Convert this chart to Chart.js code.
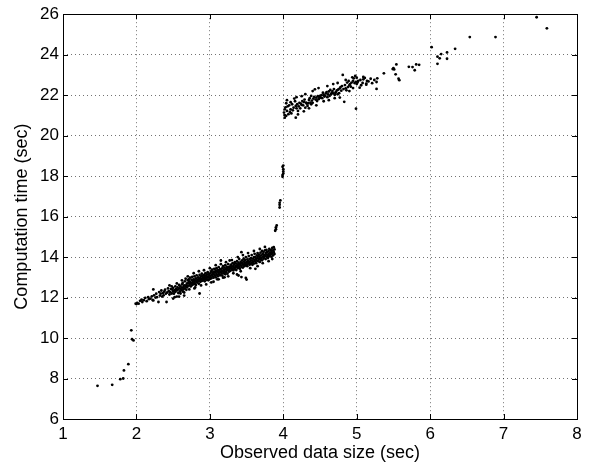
<!DOCTYPE html>
<html lang="en">
<head>
    <meta charset="UTF-8" />
    <title>Computation time vs observed data size</title>
    <script src="https://cdn.jsdelivr.net/npm/chart.js"></script>
    <style>
        html, body { margin: 0; padding: 0; background: #fff; }
        #wrap { width: 592px; height: 464px; }
    </style>
</head>
<body>
    <div id="wrap"><canvas id="grafico" width="592" height="464"></canvas></div>

    <script>
    const lowPts = [
        [1.47,7.64],[1.67,7.69],[1.78,7.97],[1.82,8.00],[1.83,8.40],[1.89,8.71],
        [1.93,10.38],[1.94,9.94],[1.96,9.88]
    ];

    const bandPts = [
        [1.99,11.70],[2.00,11.68],[2.01,11.73],[2.03,11.70],[2.05,11.84],[2.07,11.90],[2.08,11.78],[2.10,11.87],
        [2.12,11.98],[2.14,11.82],[2.16,12.02],[2.17,11.92],[2.19,11.95],[2.21,12.06],[2.22,11.88],[2.23,11.86],
        [2.23,12.40],[2.24,12.11],[2.26,12.00],[2.27,12.19],[2.28,12.02],[2.30,11.78],[2.31,12.27],[2.32,12.10],
        [2.33,12.19],[2.34,12.35],[2.35,12.05],[2.36,12.22],[2.37,12.11],[2.38,12.30],[2.39,12.39],[2.40,12.19],
        [2.41,11.78],
        [2.42,12.25],[2.43,12.45],[2.44,12.32],[2.45,12.60],[2.45,12.15],[2.46,12.27],[2.47,12.42],[2.48,12.55],
        [2.48,12.20],[2.49,12.39],[2.50,12.30],[2.50,12.48],[2.50,11.95],[2.51,12.19],[2.52,12.36],[2.52,12.02],
        [2.53,12.55],[2.53,12.28],[2.54,12.42],[2.55,12.35],[2.55,12.05],[2.55,12.70],[2.56,12.50],[2.57,12.40],
        [2.57,12.22],[2.58,12.62],[2.58,12.05],[2.59,12.30],[2.59,12.45],[2.60,12.20],[2.60,12.55],[2.61,12.38],
        [2.62,12.48],[2.62,12.65],[2.62,12.85],[2.63,12.30],[2.63,12.72],[2.64,12.52],[2.64,12.40],[2.65,12.60],
        [2.65,12.25],[2.65,12.10],[2.66,12.80],[2.66,12.45],[2.67,12.55],[2.67,12.93],[2.68,12.62],[2.68,12.38],
        [2.69,12.70],[2.69,12.50],[2.70,12.85],[2.70,12.58],[2.70,13.05],
        [2.71,12.72],[2.71,12.90],[2.72,12.60],[2.72,12.80],[2.72,12.40],[2.73,12.68],[2.73,12.98],[2.74,12.75],
        [2.74,12.55],[2.75,12.88],[2.75,12.70],[2.76,12.62],[2.76,13.02],[2.77,12.82],[2.77,12.72],[2.78,12.90],
        [2.78,12.66],[2.78,13.20],[2.79,12.78],[2.79,13.05],[2.79,12.45],[2.80,12.85],[2.80,12.70],[2.80,12.50],
        [2.81,12.95],[2.81,12.62],[2.82,12.80],[2.82,13.10],[2.83,12.88],[2.83,12.74],[2.84,13.00],[2.84,12.82],
        [2.85,12.92],[2.85,12.68],[2.85,13.30],[2.86,13.12],[2.86,12.86],[2.86,12.20],[2.87,12.97],[2.87,12.78],
        [2.88,13.05],[2.88,12.90],[2.88,12.60],[2.89,12.82],[2.89,13.18],[2.90,12.95],[2.90,13.08],[2.91,12.86],
        [2.91,13.00],[2.92,13.12],[2.92,12.92],[2.92,13.35],[2.93,13.02],[2.93,12.80],[2.94,13.20],[2.94,12.96],
        [2.95,13.08],[2.95,12.88],[2.95,12.65],[2.96,13.14],[2.96,13.00],[2.97,12.90],[2.97,13.25],[2.98,13.05],
        [2.98,12.85],[2.99,13.16],[2.99,12.98],[3.00,13.10],[3.00,12.92],[3.00,13.45],
        [3.01,13.22],[3.01,13.02],[3.02,13.30],[3.02,12.95],[3.02,12.75],[3.03,13.12],[3.03,13.38],[3.04,13.05],
        [3.04,13.20],[3.05,13.28],[3.05,12.98],[3.05,12.78],[3.06,13.15],[3.06,13.42],[3.07,13.08],[3.07,13.25],
        [3.08,13.34],[3.08,13.00],[3.08,13.60],[3.09,13.18],[3.09,13.45],[3.10,13.12],[3.10,13.28],[3.10,12.90],
        [3.11,13.36],[3.11,13.05],[3.12,13.22],[3.12,13.50],[3.12,12.90],[3.13,13.15],[3.13,13.30],[3.14,13.40],
        [3.14,13.10],[3.15,13.25],[3.15,13.83],[3.15,13.65],[3.16,13.34],[3.16,13.18],[3.17,13.45],[3.17,13.08],
        [3.18,13.28],[3.18,13.55],[3.18,12.98],[3.19,13.38],[3.19,13.20],[3.20,13.48],[3.20,13.30],[3.20,13.00],
        [3.21,13.15],[3.21,13.60],[3.22,13.40],[3.22,13.25],[3.22,13.75],[3.23,13.52],[3.23,13.34],[3.24,13.44],
        [3.24,13.18],[3.25,13.65],[3.25,13.36],[3.25,13.05],[3.26,13.50],[3.26,13.28],[3.27,13.42],[3.27,13.83],
        [3.28,13.55],[3.28,13.32],[3.29,13.46],[3.29,13.62],[3.30,13.38],[3.30,13.52],[3.30,13.85],
        [3.31,13.70],[3.31,13.42],[3.32,13.56],[3.32,13.34],[3.32,13.20],[3.33,13.66],[3.33,13.48],[3.34,13.75],
        [3.34,13.40],[3.35,13.58],[3.35,13.50],[3.36,13.68],[3.36,13.36],[3.37,13.80],[3.37,13.54],[3.37,13.14],
        [3.38,13.62],[3.38,13.45],[3.38,14.00],[3.39,13.72],[3.39,13.58],[3.39,13.09],[3.40,13.90],[3.40,13.50],
        [3.41,13.66],[3.41,13.42],[3.42,13.76],[3.42,13.60],[3.42,13.30],[3.43,14.24],[3.43,13.52],[3.43,13.01],
        [3.44,13.70],[3.44,13.84],[3.45,13.62],[3.45,13.48],[3.45,14.10],[3.46,13.78],[3.46,13.92],[3.47,13.66],
        [3.47,13.55],[3.48,13.86],[3.48,13.72],[3.49,13.60],[3.49,14.00],[3.49,12.97],[3.50,13.75],[3.50,13.64],
        [3.50,12.89],[3.51,13.88],[3.51,13.55],[3.52,13.80],[3.52,13.68],[3.52,14.20],[3.53,14.05],[3.53,13.72],
        [3.54,13.62],[3.54,13.90],[3.55,13.78],[3.55,13.66],[3.55,13.45],[3.56,13.95],[3.56,13.84],[3.57,13.70],
        [3.57,14.10],[3.58,13.82],[3.58,13.62],[3.59,13.92],[3.59,13.76],[3.60,14.00],[3.60,13.68],[3.60,14.30],
        [3.61,13.86],[3.61,14.16],[3.62,13.78],[3.62,14.00],[3.62,13.42],[3.63,13.92],[3.63,13.70],[3.64,14.08],
        [3.64,13.84],[3.65,13.96],[3.65,14.20],[3.65,13.55],[3.66,13.80],[3.66,14.04],[3.67,13.90],[3.67,14.12],
        [3.68,13.76],[3.68,14.00],[3.68,14.40],[3.69,14.22],[3.69,13.88],[3.70,14.08],[3.70,13.95],[3.71,14.30],
        [3.71,13.84],[3.72,14.02],[3.72,14.16],[3.72,13.70],[3.73,13.92],[3.73,14.26],[3.74,14.10],[3.74,13.98],
        [3.75,14.33],[3.75,14.05],[3.75,14.50],[3.76,13.90],[3.76,14.20],[3.77,14.12],[3.77,14.36],[3.78,14.00],
        [3.78,14.24],[3.79,14.10],[3.79,13.95],[3.80,14.30],[3.80,14.16],[3.80,13.80],[3.81,14.04],[3.81,14.41],
        [3.82,14.22],[3.82,14.08],[3.83,14.34],[3.83,14.14],[3.84,14.00],[3.84,14.26],[3.85,14.45],[3.85,14.18],
        [3.85,13.90],[3.86,14.08],[3.86,14.33],[3.87,14.24],[3.87,14.49],[3.88,14.15],[3.88,14.38]
    ];

    const jumpPts = [
        [3.89,15.30],[3.90,15.38],[3.90,15.47],[3.91,15.56],
        [3.95,16.45],[3.95,16.58],[3.95,16.68],[3.96,16.80],
        [3.99,17.97],[3.99,18.05],[4.00,18.13],[4.00,18.23],[4.00,18.34],[3.99,18.46],[4.00,18.52]
    ];

    const upperPts = [
        [4.01,21.14],[4.02,21.01],[4.02,21.30],[4.02,20.89],[4.03,21.40],[4.04,20.98],[4.04,21.60],[4.05,21.22],
        [4.05,21.75],[4.06,21.45],[4.07,21.06],[4.08,21.50],[4.09,21.17],[4.10,21.30],[4.10,21.65],[4.11,21.10],
        [4.12,21.55],[4.13,21.25],[4.14,21.38],[4.15,21.83],[4.16,21.70],[4.17,21.47],[4.17,20.89],[4.18,21.35],
        [4.18,21.90],[4.19,21.55],[4.20,21.22],[4.20,21.05],[4.21,21.45],[4.22,21.62],[4.23,21.35],[4.24,21.58],
        [4.25,21.52],[4.25,21.95],[4.26,21.71],[4.27,21.50],[4.28,21.66],[4.28,21.20],[4.29,21.78],[4.30,21.38],
        [4.30,22.05],[4.31,21.63],[4.32,21.58],[4.33,21.47],[4.34,21.60],[4.35,21.76],[4.35,21.35],[4.36,21.85],
        [4.37,21.63],[4.38,21.55],[4.38,21.96],[4.39,21.73],[4.40,21.62],[4.40,22.20],[4.41,21.83],[4.42,21.92],
        [4.43,22.29],[4.44,21.78],[4.45,21.88],[4.45,21.50],[4.46,21.71],[4.47,21.95],[4.48,21.80],[4.48,22.35],
        [4.49,21.85],[4.50,21.96],[4.51,21.88],[4.52,22.00],[4.53,21.85],[4.54,22.12],[4.55,22.01],[4.55,21.70],
        [4.56,21.93],[4.57,21.98],[4.58,22.09],[4.59,22.15],[4.60,21.90],[4.60,22.45],[4.61,22.04],[4.62,22.18],
        [4.62,21.75],[4.63,21.96],[4.64,22.26],[4.65,22.05],[4.66,22.12],[4.67,22.20],[4.68,22.09],[4.68,22.55],
        [4.69,22.30],[4.70,22.02],[4.70,21.85],[4.71,22.12],[4.72,22.15],[4.73,22.24],[4.74,22.04],[4.74,22.60],
        [4.75,22.28],[4.76,22.10],[4.77,22.34],[4.77,21.88],[4.78,22.40],[4.79,22.22],[4.80,22.45],[4.81,23.00],
        [4.82,22.30],[4.83,21.67],[4.84,22.50],[4.85,22.34],[4.85,22.75],[4.86,22.24],[4.87,22.62],[4.88,22.40],
        [4.89,22.70],[4.90,22.49],[4.90,22.20],[4.91,22.55],[4.92,22.42],[4.93,22.62],[4.94,22.88],[4.95,22.71],
        [4.95,22.35],[4.96,22.83],[4.97,22.60],[4.98,22.95],[4.99,22.65],[4.99,21.33],[5.00,22.55],[5.00,22.86],
        [5.01,22.62],[5.02,22.70],[5.04,22.37],[5.05,22.75],[5.06,22.49],[5.08,22.60],[5.09,22.90],[5.09,22.78],
        [5.11,22.85],[5.13,22.57],[5.13,22.52],[5.14,22.70],[5.16,22.68],[5.19,22.81],[5.21,22.59],[5.24,22.75],
        [5.27,22.65],[5.27,22.31],[5.28,22.83],[5.37,23.08],[5.49,23.29],[5.50,23.33],[5.51,23.27],[5.53,23.03],
        [5.54,23.52],[5.57,22.81],[5.58,22.74]
    ];

    const tailPts = [
        [5.71,23.40],[5.76,23.39],[5.79,23.23],[5.81,23.52],[5.85,23.50],[6.02,24.37],[6.10,23.90],[6.10,23.55],
        [6.13,23.82],[6.15,24.03],[6.23,24.11],[6.23,23.80],[6.34,24.29],[6.54,24.87],[6.89,24.87],[7.45,25.85],
        [7.59,25.30]
    ];

    const xTicks = [1, 2, 3, 4, 5, 6, 7, 8];
    const yTicks = [6, 8, 10, 12, 14, 16, 18, 20, 22, 24, 26];

    const fonte = '"Liberation Sans", Arial, Helvetica, sans-serif';

    const pontos = [...lowPts, ...bandPts, ...jumpPts, ...upperPts, ...tailPts].map(p => ({ x: p[0], y: p[1] }));

    // moldura preta com marcas para dentro (estilo MATLAB)
    const moldura = {
        id: 'moldura',
        afterDraw(chart) {
            const { ctx, chartArea: a, scales: { x, y } } = chart;
            const t = 5;
            ctx.save();
            ctx.strokeStyle = '#000';
            ctx.lineWidth = 1;
            ctx.beginPath();
            xTicks.forEach(v => {
                const px = Math.round(x.getPixelForValue(v)) + 0.5;
                ctx.moveTo(px, a.bottom); ctx.lineTo(px, a.bottom - t);
                ctx.moveTo(px, a.top); ctx.lineTo(px, a.top + t);
            });
            yTicks.forEach(v => {
                const py = Math.round(y.getPixelForValue(v)) + 0.5;
                ctx.moveTo(a.left, py); ctx.lineTo(a.left + t, py);
                ctx.moveTo(a.right, py); ctx.lineTo(a.right - t, py);
            });
            ctx.stroke();
            ctx.strokeRect(Math.round(a.left) + 0.5, Math.round(a.top) + 0.5,
                Math.round(a.right - a.left), Math.round(a.bottom - a.top));
            ctx.restore();
        }
    };

    const ctx = document.getElementById('grafico').getContext('2d');
    const grafico = new Chart(ctx, {
        type: 'scatter',
        data: {
            datasets: [{
                label: 'Computation time',
                data: pontos,
                backgroundColor: '#000',
                borderWidth: 0,
                pointRadius: 1.4,
                pointHoverRadius: 1.4
            }]
        },
        options: {
            responsive: false,
            animation: false,
            layout: { padding: { top: 13, right: 15, left: 0, bottom: 0 } },
            plugins: {
                legend: { display: false },
                tooltip: { enabled: false }
            },
            scales: {
                x: {
                    type: 'linear',
                    min: 1, max: 8,
                    afterFit: s => { s.height = 45; },
                    afterBuildTicks: s => { s.ticks = xTicks.map(v => ({ value: v })); },
                    grid: { color: 'rgba(0,0,0,0.55)', lineWidth: 1, drawTicks: false },
                    border: { display: false, dash: [1, 3] },
                    ticks: { color: '#000', padding: 5, maxRotation: 0, font: { family: fonte, size: 17 } },
                    title: {
                        display: true,
                        text: 'Observed data size (sec)',
                        color: '#000',
                        padding: { top: 0, bottom: 0 },
                        font: { family: fonte, size: 18 }
                    }
                },
                y: {
                    type: 'linear',
                    min: 6, max: 26,
                    afterFit: s => { s.width = 63; },
                    afterBuildTicks: s => { s.ticks = yTicks.map(v => ({ value: v })); },
                    grid: { color: 'rgba(0,0,0,0.55)', lineWidth: 1, drawTicks: false },
                    border: { display: false, dash: [1, 3] },
                    ticks: { color: '#000', padding: 4, font: { family: fonte, size: 17 } },
                    title: {
                        display: true,
                        text: 'Computation time (sec)',
                        color: '#000',
                        padding: { top: 11, bottom: 0 },
                        font: { family: fonte, size: 18 }
                    }
                }
            }
        },
        plugins: [moldura]
    });
    </script>
</body>
</html>
